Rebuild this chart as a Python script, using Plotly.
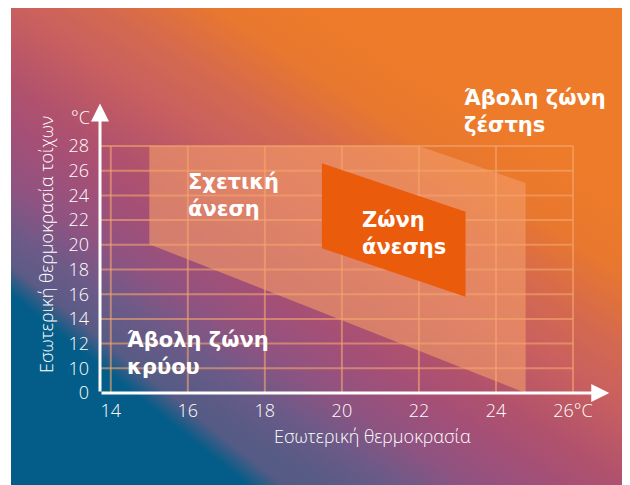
import base64
import plotly.graph_objects as go

# ---- data (display units; the y axis is broken: "0" sits at position 8) ----
x_ticks = [14, 16, 18, 20, 22, 24, 26]
x_tick_text = ["14", "16", "18", "20", "22", "24", "26°C"]
y_tick_pos = [8, 10, 12, 14, 16, 18, 20, 22, 24, 26, 28]
y_tick_text = ["0", "10", "12", "14", "16", "18", "20", "22", "24", "26", "28"]

relative_x = [15, 22, 24.77, 24.77, 15]
relative_y = [28, 28, 25, 8, 20.05]

comfort_x = [19.48, 23.21, 23.21, 19.48]
comfort_y = [26.6, 22.68, 15.8, 19.72]

X_MIN, X_MAX = 13.72, 26.96
Y_MIN, Y_MAX = 8, 31.48

THIN_FONT = "Open Sans"
BOLD_FONT = "DejaVu Sans"
OFF = 8  # page body margin
W, H = 622, 477
L, R, T, B = 92, 20, 95, 92
PW, PH = W - L - R, H - T - B


def px(xp):
    return (xp - OFF - L) / PW


def py(yp):
    return (H - B - (yp - OFF)) / PH


# ---- gradient background as svg (style only) ----
stops_a = [
    (0.00, "#4a5a85"), (0.14, "#575b85"), (0.22, "#6c5a88"), (0.30, "#8f5381"),
    (0.40, "#a54f76"), (0.48, "#b2526c"), (0.60, "#c9605f"), (0.70, "#d4694f"),
    (0.82, "#e8772f"), (0.94, "#ee7b2a"), (1.00, "#ee7b2a"),
]
stops_b = [(0.0, 1), (0.36, 1), (0.8, 0), (1.0, 0)]
sa = "".join(f"<stop offset='{o}' stop-color='{c}'/>" for o, c in stops_a)
sb = "".join(f"<stop offset='{o}' stop-color='#045d88' stop-opacity='{a}'/>"
             for o, a in stops_b)
svg = (
    "<svg xmlns='http://www.w3.org/2000/svg' width='619' height='478' "
    "viewBox='0 0 619 478' preserveAspectRatio='none'><defs>"
    "<linearGradient id='a' gradientUnits='userSpaceOnUse' "
    "x1='-174.5' y1='244.4' x2='98' y2='-174.6'>" + sa + "</linearGradient>"
    "<linearGradient id='b' gradientUnits='userSpaceOnUse' "
    "x1='-161.7' y1='179.7' x2='-130.3' y2='140.8'>" + sb + "</linearGradient>"
    "</defs><rect width='619' height='478' fill='url(#a)'/>"
    "<rect width='619' height='478' fill='url(#b)'/></svg>"
)
svg_uri = "data:image/svg+xml;base64," + base64.b64encode(svg.encode()).decode()

fig = go.Figure()

# relative comfort zone
fig.add_trace(go.Scatter(
    x=relative_x + [relative_x[0]], y=relative_y + [relative_y[0]],
    mode="lines", fill="toself", fillcolor="rgba(242,155,105,0.62)",
    line=dict(width=0), hoverinfo="skip", showlegend=False))

# grid
gx, gy = [], []
for xv in x_ticks:
    gx += [xv, xv, None]
    gy += [Y_MIN, y_tick_pos[-1], None]
for yv in y_tick_pos[1:]:
    gx += [X_MIN, x_ticks[-1], None]
    gy += [yv, yv, None]
fig.add_trace(go.Scatter(
    x=gx, y=gy, mode="lines", line=dict(color="rgba(245,165,110,0.6)", width=2),
    hoverinfo="skip", showlegend=False))

# comfort zone
fig.add_trace(go.Scatter(
    x=comfort_x + [comfort_x[0]], y=comfort_y + [comfort_y[0]],
    mode="lines", fill="toself", fillcolor="#eb5b0c",
    line=dict(width=0), hoverinfo="skip", showlegend=False))

ann = []
# axis arrows
ann.append(dict(x=X_MAX - 0.02, y=Y_MIN, ax=X_MIN, ay=Y_MIN, xref="x", yref="y",
                axref="x", ayref="y", text="", showarrow=True, arrowhead=2,
                arrowsize=1.2, arrowwidth=3, arrowcolor="white", standoff=0))
ann.append(dict(x=X_MIN, y=Y_MAX - 0.05, ax=X_MIN, ay=Y_MIN, xref="x", yref="y",
                axref="x", ayref="y", text="", showarrow=True, arrowhead=2,
                arrowsize=1.2, arrowwidth=3, arrowcolor="white", standoff=0))

thin = dict(family=THIN_FONT, size=18, color="white", weight=300)
ann.append(dict(x=px(92), y=py(117), xref="paper", yref="paper", text="°C",
                showarrow=False, xanchor="right", yanchor="middle", font=thin))
ann.append(dict(x=px(372), y=py(436), xref="paper", yref="paper",
                text="Εσωτερική θερμοκρασία", showarrow=False,
                xanchor="center", yanchor="middle", font=thin))
ann.append(dict(x=px(46), y=py(245), xref="paper", yref="paper",
                text="Εσωτερική θερμοκρασία τοίχων", showarrow=False, textangle=-90,
                xanchor="center", yanchor="middle", font=thin))

bold = dict(family=BOLD_FONT, size=21, color="white", weight=700)
labels = [
    (186, 195, "Σχετική<br>άνεση"),
    (360, 233, "Ζώνη<br>άνεσηs"),
    (462, 112, "Άβολη ζώνη<br>ζέστηs"),
    (125, 353, "Άβολη ζώνη<br>κρύου"),
]
for lx, ly, t in labels:
    ann.append(dict(x=px(lx), y=py(ly), xref="paper", yref="paper", text=t,
                    showarrow=False, xanchor="left", yanchor="middle", align="left",
                    font=bold))

fig.update_layout(
    width=W, height=H, margin=dict(l=L, r=R, t=T, b=B),
    paper_bgcolor="white", plot_bgcolor="rgba(0,0,0,0)",
    annotations=ann,
    images=[dict(source=svg_uri, xref="paper", yref="paper", x=px(11), y=py(7),
                 sizex=619 / PW, sizey=478 / PH, xanchor="left", yanchor="top",
                 sizing="stretch", layer="below")],
    xaxis=dict(range=[X_MIN, X_MAX], tickvals=x_ticks, ticktext=x_tick_text,
               showgrid=False, zeroline=False, showline=False, ticks="",
               ticklabelstandoff=5, tickfont=thin, fixedrange=True),
    yaxis=dict(range=[Y_MIN, Y_MAX], tickvals=y_tick_pos, ticktext=y_tick_text,
               showgrid=False, zeroline=False, showline=False, ticks="",
               ticklabelstandoff=10, tickfont=thin, fixedrange=True),
    showlegend=False,
)

fig.write_html("out.html")
